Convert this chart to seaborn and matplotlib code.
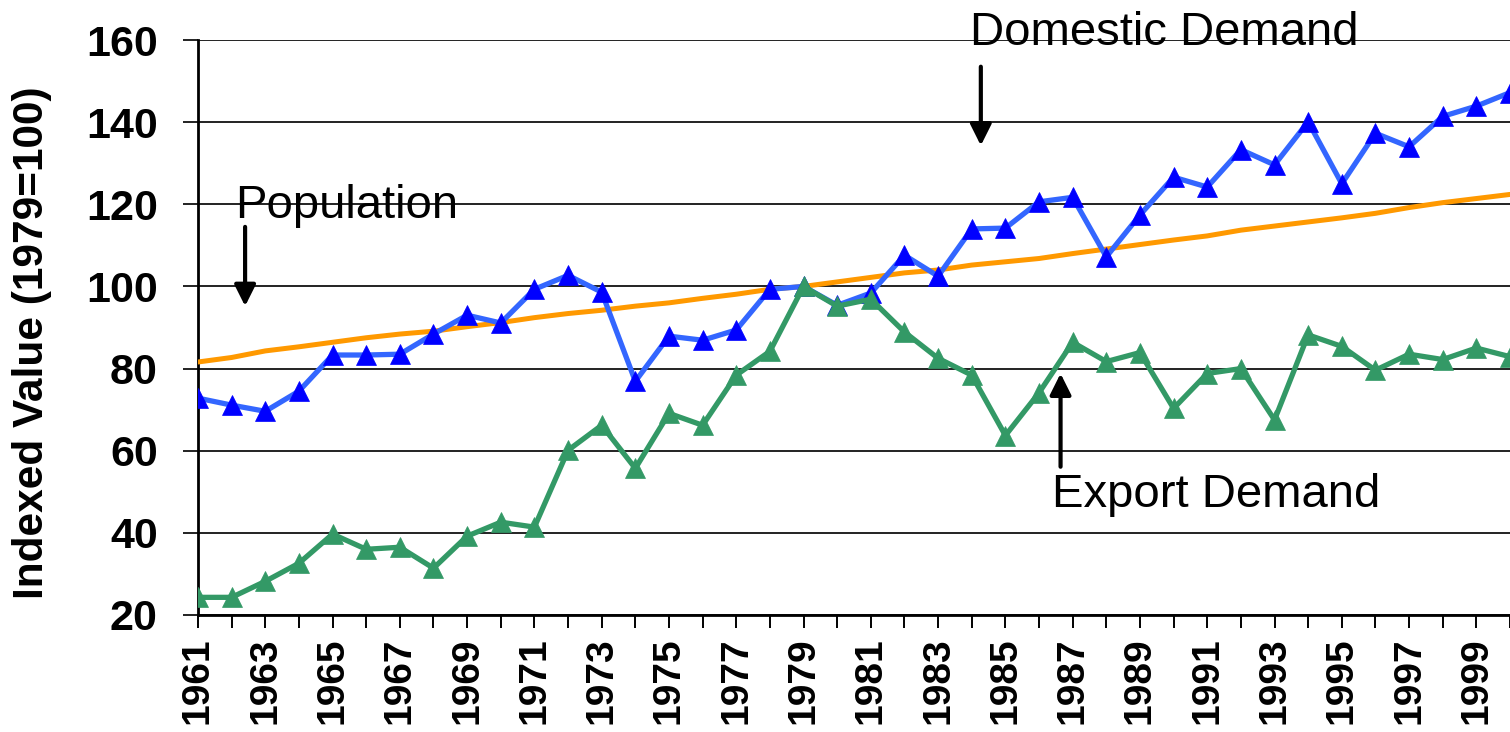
import numpy as np
import pandas as pd
import matplotlib
matplotlib.use("Agg")
import matplotlib.pyplot as plt
import seaborn as sns

years = list(range(1961, 2001))

domestic = [72.8, 71.1, 69.6, 74.5, 83.3, 83.3, 83.5, 88.4, 93.0, 91.1,
            99.3, 102.7, 98.6, 76.9, 87.9, 86.9, 89.4, 99.3, 100.0, 95.4,
            98.4, 107.6, 102.5, 114.0, 114.2, 120.6, 121.7, 107.2, 117.4, 126.6,
            124.2, 133.3, 129.6, 140.1, 125.0, 137.3, 134.0, 141.4, 143.9, 147.2]

export = [24.3, 24.3, 28.2, 32.6, 39.7, 36.0, 36.5, 31.4, 39.2, 42.6,
          41.4, 60.1, 66.2, 55.7, 69.1, 66.2, 78.4, 84.2, 100.0, 95.2,
          96.9, 88.9, 82.5, 78.4, 63.7, 74.1, 86.4, 81.7, 83.9, 70.3,
          78.8, 80.0, 67.5, 88.2, 85.4, 79.6, 83.5, 82.2, 85.0, 82.9]

population = [81.6, 82.7, 84.3, 85.3, 86.4, 87.5, 88.4, 89.1, 90.2, 91.2,
              92.4, 93.4, 94.2, 95.2, 96.0, 97.1, 98.1, 99.3, 100.0, 101.1,
              102.2, 103.3, 104.0, 105.2, 106.0, 106.8, 108.0, 109.1, 110.2, 111.3,
              112.3, 113.7, 114.7, 115.7, 116.7, 117.8, 119.2, 120.4, 121.4, 122.4]

y_ticks = [20, 40, 60, 80, 100, 120, 140, 160]
x_tick_labels = [str(y) if y % 2 == 1 else "" for y in years]

sns.set_theme(style="white")
plt.rcParams["font.family"] = ["Liberation Sans", "DejaVu Sans"]
plt.rcParams["text.color"] = "black"
plt.rcParams["axes.labelcolor"] = "black"
plt.rcParams["xtick.color"] = "black"
plt.rcParams["ytick.color"] = "black"

df = pd.DataFrame({"Year": years, "Domestic": domestic,
                   "Export": export, "Population": population})

fig = plt.figure(figsize=(15.10, 7.32), dpi=100)
ax = fig.add_axes([198 / 1510, 1 - 615 / 732, 1312 / 1510, 575 / 732])

sns.lineplot(data=df, x="Year", y="Population", ax=ax, color="#FF9900",
             linewidth=3.6, zorder=3)
sns.lineplot(data=df, x="Year", y="Domestic", ax=ax, color="#3366FF",
             linewidth=3.8, marker="^", markersize=14,
             markerfacecolor="#0000FF", markeredgecolor="#0000FF",
             markeredgewidth=0.5, zorder=4)
sns.lineplot(data=df, x="Year", y="Export", ax=ax, color="#339966",
             linewidth=3.8, marker="^", markersize=14,
             markerfacecolor="#339966", markeredgecolor="#339966",
             markeredgewidth=0.5, zorder=4)

ax.set_xlim(1961, 2000)
ax.set_ylim(20, 160)
ax.set_yticks(y_ticks)
ax.set_yticklabels([str(v) for v in y_ticks], fontsize=31, fontweight="bold",
                   color="black")
ax.set_xticks(years)
ax.set_xticklabels(x_tick_labels, rotation=90, fontsize=28, fontweight="bold",
                   color="black")

ax.yaxis.grid(True, color="#222222", linewidth=1.4)
ax.xaxis.grid(False)
ax.set_axisbelow(True)

for s in ["top", "right"]:
    ax.spines[s].set_visible(False)
for s in ["left", "bottom"]:
    ax.spines[s].set_color("black")
    ax.spines[s].set_linewidth(2.0)

ax.tick_params(axis="y", direction="out", length=11, width=1.4, color="#222222",
               pad=18, left=True, labelcolor="black")
ax.tick_params(axis="x", direction="out", length=9, width=1.4, color="black",
               pad=7, bottom=True, labelcolor="black")

ax.set_xlabel("")
ax.set_ylabel("Indexed Value (1979=100)", fontsize=30.5, fontweight="bold",
              va="center", ha="center", color="black")
ax.yaxis.set_label_coords(-0.1265, 0.473)

arrow_kw = dict(arrowstyle="-|>", color="black", lw=3.0, mutation_scale=32,
                shrinkA=0, shrinkB=0)

ax.text(1983.95, 158.8, "Domestic Demand", fontsize=34, va="baseline",
        ha="left", color="black", clip_on=False)
ax.annotate("", xy=(1984.27, 134.3), xytext=(1984.27, 153.5),
            arrowprops=arrow_kw, annotation_clip=False)

ax.text(1962.1, 116.7, "Population", fontsize=34, va="baseline",
        ha="left", color="black")
ax.annotate("", xy=(1962.4, 95.2), xytext=(1962.4, 114.5),
            arrowprops=arrow_kw)

ax.text(1986.38, 46.4, "Export Demand", fontsize=34, va="baseline",
        ha="left", color="black")
ax.annotate("", xy=(1986.64, 78.8), xytext=(1986.64, 56.1),
            arrowprops=arrow_kw)

fig.savefig("out.png", dpi=100)
